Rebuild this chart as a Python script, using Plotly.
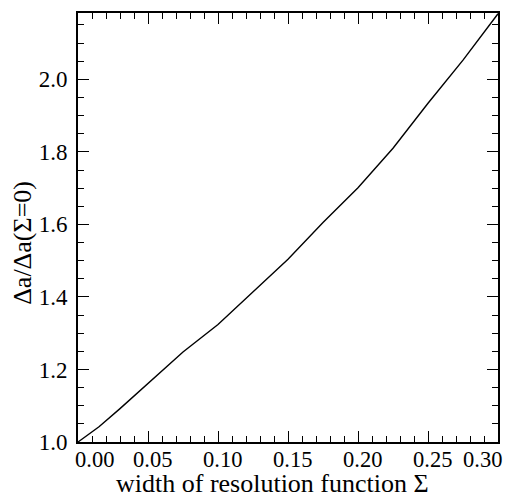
import plotly.graph_objects as go

# Data
sigma = [0.0, 0.015, 0.03, 0.05, 0.075, 0.10, 0.125, 0.15, 0.175, 0.20, 0.225, 0.25, 0.275, 0.30]
ratio = [1.0, 1.042, 1.092, 1.161, 1.248, 1.324, 1.413, 1.504, 1.605, 1.701, 1.81, 1.934, 2.053, 2.181]

x_tickvals = [0.00, 0.05, 0.10, 0.15, 0.20, 0.25, 0.30]
x_ticktext = ["0.00", "0.05", "0.10", "0.15", "0.20", "0.25", "0.30"]
y_tickvals = [1.0, 1.2, 1.4, 1.6, 1.8, 2.0]
y_ticktext = ["1.0", "1.2", "1.4", "1.6", "1.8", "2.0"]

x_title = "width of resolution function Σ"
y_title = "Δa/Δa(Σ=0)"

FONT = "'Liberation Serif', 'Times New Roman', serif"

fig = go.Figure()
fig.add_trace(go.Scatter(x=sigma, y=ratio, mode="lines",
                         line=dict(color="black", width=1.4),
                         hoverinfo="skip", showlegend=False, cliponaxis=False))

axis_common = dict(
    showgrid=False, zeroline=False, showline=True, linecolor="black", linewidth=2,
    ticks="inside", ticklen=11, tickwidth=1.3, tickcolor="black", mirror="allticks",
)

fig.update_xaxes(range=[0, 0.30], tickvals=x_tickvals, showticklabels=False,
                 minor=dict(dtick=0.01, ticks="inside", ticklen=6, tickwidth=1.1, tickcolor="black"),
                 **axis_common)
fig.update_yaxes(range=[1.0, 2.183], tickvals=y_tickvals, ticktext=y_ticktext,
                 tickfont=dict(family=FONT, size=23, color="black"),
                 ticklabelstandoff=4,
                 minor=dict(dtick=0.05, tick0=1.0, ticks="inside", ticklen=6, tickwidth=1.1, tickcolor="black"),
                 **axis_common)

annotations = []
n = len(x_tickvals)
for i, (v, t) in enumerate(zip(x_tickvals, x_ticktext)):
    if i == 0:
        anchor, shift = "left", -3
    elif i == n - 1:
        anchor, shift = "right", 4
    else:
        anchor, shift = "center", 4
    annotations.append(dict(x=v, y=0, xref="x", yref="paper", text=t, showarrow=False,
                            xanchor=anchor, yanchor="top", xshift=shift, yshift=-5,
                            borderpad=0, borderwidth=0,
                            font=dict(family=FONT, size=22.5, color="black")))

annotations.append(dict(x=0.463, y=0, xref="paper", yref="paper", text=x_title, showarrow=False,
                        xanchor="center", yanchor="top", yshift=-26, borderpad=0,
                        font=dict(family=FONT, size=26, color="black")))
annotations.append(dict(x=0, y=0.463, xref="paper", yref="paper", text=y_title, showarrow=False,
                        textangle=-90, xanchor="center", yanchor="middle", xshift=-55.5, borderpad=0,
                        font=dict(family=FONT, size=26, color="black")))

fig.update_layout(
    width=511, height=497,
    margin=dict(l=78, r=13, t=11, b=55),
    paper_bgcolor="white", plot_bgcolor="white",
    annotations=annotations,
    font=dict(family=FONT, color="black"),
)

fig.write_html("out.html", config={"displayModeBar": False},
               post_script="document.body.style.margin='0';")
